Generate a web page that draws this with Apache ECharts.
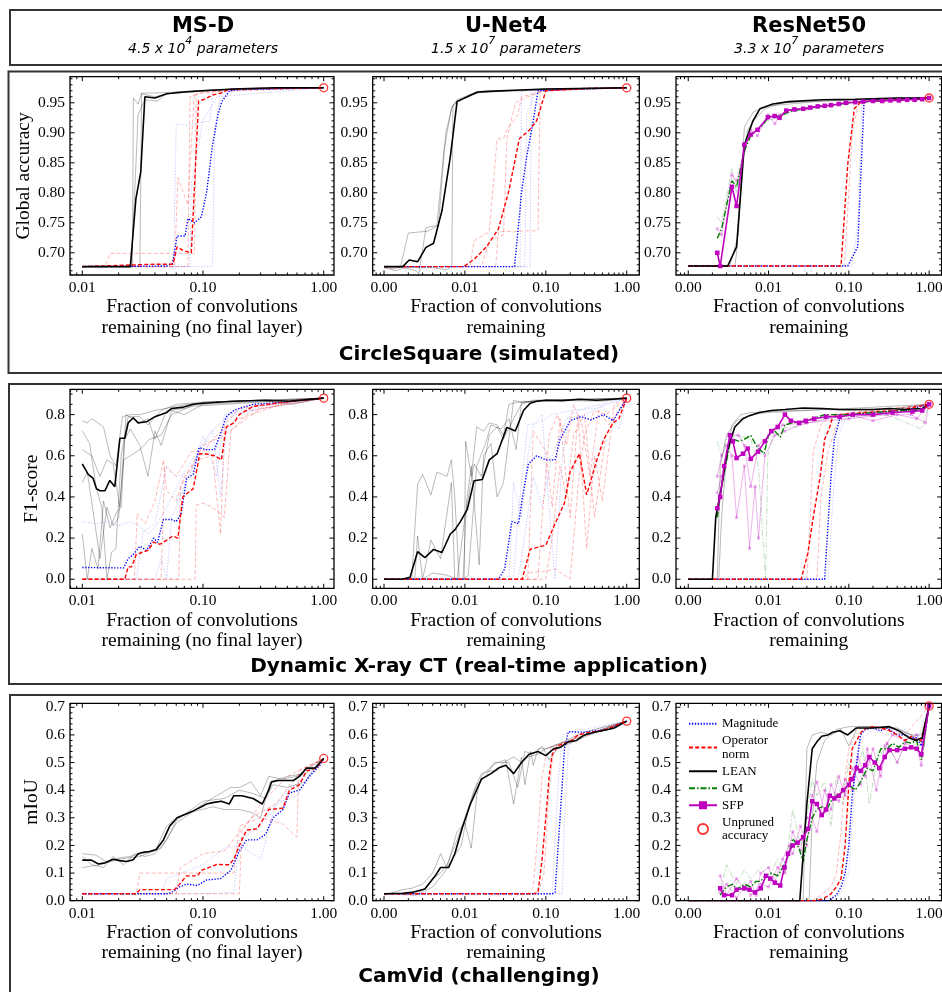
<!DOCTYPE html>
<html><head><meta charset="utf-8">
<script src="https://cdn.jsdelivr.net/npm/echarts@6/dist/echarts.min.js"></script>
<style>html,body{margin:0;padding:0;background:#fff}#c{width:942px;height:992px}</style>
</head><body><div id="c"></div><script>
// ---------------- DATA ----------------
const columnTitles = ['MS-D', 'U-Net4', 'ResNet50'];
const columnSubtitleBase = ['4.5 x 10', '1.5 x 10', '3.3 x 10'];
const columnSubtitleExp = ['4', '7', '7'];
const rowTitles = ['CircleSquare (simulated)', 'Dynamic X-ray CT (real-time application)', 'CamVid (challenging)'];
const yNames = ['Global accuracy', 'F1-score', 'mIoU'];
const xNameMSD = 'Fraction of convolutions\nremaining (no final layer)';
const xNameDeep = 'Fraction of convolutions\nremaining';
const xTicksMSD = [0.01, 0.1, 1];
const xTicksDeep = [0.001, 0.01, 0.1, 1];
const yTicksRow1 = [0.70, 0.75, 0.80, 0.85, 0.90, 0.95];
const yTicksRow2 = [0.0, 0.2, 0.4, 0.6, 0.8];
const yTicksRow3 = [0.0, 0.1, 0.2, 0.3, 0.4, 0.5, 0.6, 0.7];
const legendNames = ['Magnitude', 'Operator\nnorm', 'LEAN', 'GM', 'SFP', 'Unpruned\naccuracy'];
const unprunedRow1 = [0.975, 0.975, 0.958];
const unprunedRow2 = [0.88, 0.88, 0.85];
const unprunedRow3 = [0.515, 0.65, 0.705];

// Row 1, MS-D
const r1c1Lean = [[0.01,0.677],[0.025,0.677],[0.0278,0.79],[0.0305,0.835],[0.033,0.96],[0.04,0.958],[0.05,0.965],[0.07,0.968],[0.1,0.97],[0.18,0.973],[0.4,0.975],[0.7,0.975],[1,0.975]];
const r1c1LeanRun1 = [[0.01,0.677],[0.026,0.677],[0.0265,0.958],[0.029,0.948],[0.031,0.966],[0.05,0.967],[0.1,0.971],[0.2,0.973],[1,0.975]];
const r1c1LeanRun2 = [[0.01,0.677],[0.03,0.677],[0.031,0.965],[0.04,0.96],[0.06,0.968],[0.2,0.973],[1,0.975]];
const r1c1LeanRun3 = [[0.01,0.677],[0.0255,0.677],[0.028,0.86],[0.029,0.93],[0.033,0.955],[0.042,0.953],[0.05,0.965],[0.2,0.974],[1,0.975]];
const r1c1Op = [[0.01,0.677],[0.02,0.679],[0.04,0.681],[0.0565,0.681],[0.061,0.71],[0.07,0.703],[0.08,0.70],[0.092,0.953],[0.1,0.955],[0.12,0.963],[0.14,0.966],[0.16,0.972],[0.3,0.974],[1,0.975]];
const r1c1OpRun1 = [[0.01,0.677],[0.0155,0.677],[0.017,0.699],[0.085,0.699],[0.088,0.965],[0.2,0.973],[1,0.975]];
const r1c1OpRun2 = [[0.01,0.677],[0.058,0.677],[0.062,0.825],[0.075,0.78],[0.085,0.97],[1,0.975]];
const r1c1OpRun3 = [[0.01,0.677],[0.075,0.677],[0.078,0.96],[0.1,0.968],[1,0.975]];
const r1c1Mag = [[0.01,0.677],[0.05,0.678],[0.056,0.683],[0.061,0.728],[0.071,0.728],[0.075,0.757],[0.085,0.75],[0.097,0.76],[0.107,0.8],[0.12,0.88],[0.133,0.93],[0.143,0.952],[0.166,0.97],[0.2,0.972],[1,0.975]];
const r1c1MagRun1 = [[0.01,0.677],[0.057,0.677],[0.06,0.915],[0.075,0.912],[0.1,0.918],[0.115,0.92],[0.12,0.97],[1,0.975]];
const r1c1MagRun2 = [[0.01,0.677],[0.12,0.677],[0.125,0.9],[0.14,0.965],[0.2,0.973],[1,0.975]];
const r1c1MagRun3 = [[0.01,0.677],[0.078,0.677],[0.08,0.815],[0.1,0.92],[0.13,0.96],[1,0.975]];

// Row 1, U-Net4
const r1c2Lean = [[0.001,0.677],[0.0017,0.677],[0.00205,0.688],[0.0026,0.685],[0.0033,0.709],[0.0041,0.716],[0.0052,0.77],[0.0066,0.86],[0.008,0.952],[0.0107,0.96],[0.0142,0.968],[0.019,0.969],[0.04,0.971],[0.1,0.973],[1,0.975]];
const r1c2LeanRun1 = [[0.001,0.677],[0.0013,0.673],[0.0016,0.677],[0.002,0.733],[0.0035,0.736],[0.0045,0.745],[0.0055,0.87],[0.0068,0.94],[0.008,0.955],[0.012,0.965],[0.02,0.969],[0.1,0.973],[1,0.975]];
const r1c2LeanRun2 = [[0.001,0.677],[0.003,0.675],[0.004,0.675],[0.006,0.672],[0.0069,0.677],[0.0071,0.945],[0.008,0.953],[0.015,0.967],[0.1,0.973],[1,0.975]];
const r1c2LeanRun3 = [[0.001,0.675],[0.0014,0.67],[0.0018,0.675],[0.0025,0.67],[0.0027,0.665],[0.0033,0.742],[0.0043,0.745],[0.0047,0.745],[0.0058,0.9],[0.007,0.945],[0.0085,0.955],[0.015,0.968],[1,0.975]];
const r1c2Op = [[0.001,0.677],[0.0097,0.677],[0.0132,0.69],[0.0185,0.71],[0.026,0.74],[0.035,0.804],[0.047,0.89],[0.063,0.905],[0.077,0.92],[0.1,0.97],[0.3,0.974],[1,0.975]];
const r1c2OpRun1 = [[0.001,0.677],[0.0115,0.677],[0.013,0.72],[0.02,0.735],[0.025,0.89],[0.03,0.89],[0.033,0.905],[0.045,0.93],[0.05,0.96],[0.1,0.97],[1,0.975]];
const r1c2OpRun2 = [[0.001,0.677],[0.024,0.677],[0.026,0.735],[0.08,0.737],[0.085,0.97],[1,0.975]];
const r1c2OpRun3 = [[0.001,0.677],[0.016,0.677],[0.02,0.72],[0.03,0.73],[0.033,0.89],[0.042,0.95],[0.06,0.96],[0.09,0.97],[1,0.975]];
const r1c2Mag = [[0.001,0.677],[0.041,0.677],[0.047,0.76],[0.05,0.8],[0.058,0.86],[0.07,0.92],[0.08,0.97],[0.2,0.973],[1,0.975]];
const r1c2MagRun1 = [[0.001,0.677],[0.048,0.677],[0.05,0.97],[1,0.975]];
const r1c2MagRun2 = [[0.001,0.677],[0.064,0.677],[0.066,0.97],[1,0.975]];
const r1c2MagRun3 = [[0.001,0.677],[0.055,0.677],[0.058,0.93],[0.075,0.97],[1,0.975]];

// Row 1, ResNet50
const r1c3Lean = [[0.001,0.678],[0.0031,0.678],[0.004,0.71],[0.005,0.88],[0.0064,0.92],[0.0078,0.94],[0.0113,0.948],[0.018,0.952],[0.047,0.955],[0.12,0.956],[0.4,0.958],[1,0.958]];
const r1c3LeanRun1 = [[0.001,0.678],[0.0038,0.678],[0.004,0.7],[0.0047,0.85],[0.0055,0.905],[0.007,0.925],[0.009,0.94],[0.015,0.95],[0.1,0.955],[1,0.958]];
const r1c3LeanRun2 = [[0.001,0.678],[0.0033,0.678],[0.0042,0.73],[0.005,0.91],[0.0065,0.935],[0.01,0.945],[0.05,0.953],[1,0.958]];
const r1c3Sfp = [[0.0023,0.70],[0.0025,0.678],[0.0035,0.81],[0.004,0.778],[0.005,0.88],[0.006,0.897],[0.0073,0.905],[0.0098,0.926],[0.0119,0.928],[0.0137,0.925],[0.0166,0.937],[0.021,0.939],[0.027,0.94],[0.033,0.942],[0.041,0.944],[0.05,0.945],[0.06,0.946],[0.075,0.948],[0.092,0.95],[0.12,0.951],[0.15,0.952],[0.2,0.953],[0.26,0.953],[0.33,0.954],[0.42,0.954],[0.53,0.955],[0.66,0.955],[0.82,0.956],[1,0.958]];
const r1c3SfpRun1 = [[0.0023,0.74],[0.0026,0.73],[0.0035,0.83],[0.004,0.82],[0.005,0.87],[0.006,0.905],[0.0073,0.895],[0.0098,0.93],[0.012,0.915],[0.0137,0.93],[0.0166,0.936],[0.03,0.94],[0.1,0.95],[1,0.958]];
const r1c3Gm = [[0.0023,0.724],[0.0026,0.74],[0.0035,0.82],[0.004,0.81],[0.005,0.87],[0.006,0.895],[0.008,0.91],[0.01,0.925],[0.015,0.93],[0.02,0.937],[0.05,0.945],[0.1,0.95],[0.3,0.954],[1,0.958]];
const r1c3GmRun1 = [[0.0023,0.76],[0.0026,0.75],[0.0035,0.84],[0.004,0.8],[0.005,0.88],[0.0065,0.9],[0.01,0.92],[0.02,0.935],[0.1,0.95],[1,0.958]];
const r1c3Op = [[0.001,0.678],[0.08,0.678],[0.097,0.848],[0.117,0.94],[0.141,0.952],[0.3,0.955],[1,0.958]];
const r1c3OpRun1 = [[0.001,0.678],[0.088,0.678],[0.1,0.8],[0.11,0.9],[0.13,0.945],[0.16,0.955],[1,0.958]];
const r1c3Mag = [[0.001,0.678],[0.097,0.678],[0.129,0.71],[0.155,0.955],[0.3,0.957],[1,0.958]];
const r1c3MagRun1 = [[0.001,0.678],[0.11,0.678],[0.13,0.75],[0.145,0.955],[1,0.958]];

// Row 2, MS-D
const r2c1Lean = [[0.01,0.56],[0.0112,0.51],[0.0123,0.49],[0.0131,0.44],[0.014,0.43],[0.0154,0.43],[0.0169,0.48],[0.0186,0.45],[0.0205,0.685],[0.0225,0.685],[0.024,0.76],[0.0264,0.785],[0.029,0.76],[0.034,0.765],[0.04,0.79],[0.045,0.8],[0.05,0.81],[0.055,0.83],[0.067,0.835],[0.083,0.85],[0.103,0.855],[0.133,0.86],[0.18,0.865],[0.33,0.87],[0.52,0.865],[1,0.88]];
const r2c1LeanRun1 = [[0.01,0.77],[0.011,0.76],[0.012,0.78],[0.015,0.74],[0.017,0.6],[0.019,0.55],[0.0215,0.79],[0.025,0.8],[0.03,0.8],[0.04,0.82],[0.06,0.84],[0.1,0.86],[0.3,0.87],[0.55,0.85],[1,0.88]];
const r2c1LeanRun2 = [[0.01,0.72],[0.0115,0.66],[0.013,0.45],[0.0145,0.35],[0.016,0.0],[0.0175,0.13],[0.019,0.15],[0.021,0.6],[0.024,0.79],[0.03,0.79],[0.035,0.75],[0.045,0.82],[0.06,0.85],[0.1,0.86],[0.3,0.87],[1,0.88]];
const r2c1LeanRun3 = [[0.01,0.22],[0.011,0.0],[0.012,0.15],[0.0135,0.05],[0.015,0.38],[0.017,0.25],[0.019,0.32],[0.021,0.35],[0.0225,0.68],[0.025,0.73],[0.03,0.65],[0.035,0.5],[0.04,0.72],[0.045,0.65],[0.055,0.82],[0.07,0.8],[0.1,0.85],[1,0.88]];
const r2c1LeanRun4 = [[0.01,0.63],[0.012,0.6],[0.014,0.5],[0.016,0.58],[0.018,0.56],[0.0205,0.35],[0.023,0.8],[0.026,0.78],[0.03,0.76],[0.035,0.78],[0.04,0.68],[0.05,0.82],[0.07,0.83],[0.1,0.86],[1,0.88]];
const r2c1LeanRun5 = [[0.01,0.47],[0.011,0.52],[0.0125,0.3],[0.014,0.1],[0.016,0.35],[0.018,0.26],[0.02,0.3],[0.022,0.58],[0.025,0.6],[0.03,0.63],[0.036,0.68],[0.045,0.7],[0.055,0.8],[0.08,0.84],[1,0.88]];
const r2c1Op = [[0.01,0],[0.0225,0],[0.024,0.06],[0.0255,0.06],[0.0264,0.08],[0.028,0.12],[0.031,0.13],[0.035,0.14],[0.039,0.18],[0.044,0.17],[0.05,0.19],[0.056,0.21],[0.062,0.2],[0.068,0.4],[0.075,0.42],[0.083,0.44],[0.094,0.61],[0.104,0.61],[0.125,0.6],[0.142,0.58],[0.156,0.74],[0.18,0.76],[0.2,0.8],[0.26,0.84],[0.4,0.855],[0.63,0.87],[1,0.88]];
const r2c1OpRun1 = [[0.01,0],[0.027,0],[0.0285,0.32],[0.033,0.27],[0.04,0.38],[0.047,0.58],[0.05,0.43],[0.06,0.38],[0.07,0.5],[0.09,0.58],[0.12,0.6],[0.14,0.22],[0.15,0.75],[0.2,0.83],[1,0.88]];
const r2c1OpRun2 = [[0.01,0],[0.086,0],[0.088,0.36],[0.1,0.37],[0.12,0.35],[0.15,0.3],[0.17,0.72],[0.25,0.82],[1,0.88]];
const r2c1OpRun3 = [[0.01,0],[0.045,0],[0.048,0.55],[0.06,0.5],[0.08,0.62],[0.1,0.62],[0.13,0.7],[0.2,0.78],[0.5,0.86],[1,0.88]];
const r2c1OpRun4 = [[0.01,0],[0.063,0],[0.065,0.45],[0.08,0.55],[0.1,0.65],[0.15,0.7],[0.3,0.83],[1,0.88]];
const r2c1Mag = [[0.01,0.057],[0.022,0.055],[0.024,0.1],[0.0264,0.12],[0.03,0.16],[0.034,0.14],[0.039,0.2],[0.042,0.18],[0.047,0.29],[0.055,0.29],[0.06,0.28],[0.066,0.32],[0.073,0.49],[0.083,0.51],[0.093,0.64],[0.104,0.63],[0.125,0.63],[0.14,0.71],[0.156,0.79],[0.18,0.82],[0.2,0.83],[0.26,0.85],[0.45,0.86],[1,0.88]];
const r2c1MagRun1 = [[0.01,0.28],[0.013,0.27],[0.016,0.28],[0.02,0.26],[0.025,0.28],[0.03,0.26],[0.035,0.22],[0.04,0.25],[0.05,0.35],[0.07,0.52],[0.09,0.62],[0.11,0.7],[0.15,0.78],[0.3,0.84],[1,0.88]];
const r2c1MagRun2 = [[0.01,0],[0.028,0],[0.032,0.23],[0.04,0.27],[0.05,0.55],[0.06,0.5],[0.08,0.52],[0.1,0.7],[0.13,0.5],[0.15,0.8],[0.3,0.85],[1,0.88]];
const r2c1MagRun3 = [[0.01,0],[0.04,0],[0.045,0.1],[0.05,0.0],[0.055,0.3],[0.07,0.45],[0.09,0.6],[0.12,0.72],[0.14,0.4],[0.16,0.8],[1,0.88]];

// Row 2, U-Net4
const r2c2Lean = [[0.001,0],[0.00165,0],[0.0021,0.01],[0.0026,0.134],[0.0032,0.105],[0.0041,0.145],[0.0052,0.13],[0.0066,0.22],[0.0075,0.24],[0.0088,0.28],[0.0107,0.34],[0.013,0.479],[0.0164,0.485],[0.02,0.58],[0.025,0.61],[0.033,0.738],[0.042,0.72],[0.053,0.82],[0.064,0.855],[0.077,0.865],[0.1,0.87],[0.16,0.868],[0.26,0.875],[0.42,0.87],[0.68,0.875],[1,0.88]];
const r2c2LeanRun1 = [[0.001,0],[0.0022,0],[0.0026,0.46],[0.003,0.51],[0.0038,0.41],[0.0045,0.52],[0.006,0.5],[0.0068,0.58],[0.0075,0.4],[0.0085,0],[0.0098,0],[0.0102,0.67],[0.012,0.5],[0.014,0.74],[0.017,0.72],[0.02,0.76],[0.025,0.75],[0.03,0.7],[0.035,0.85],[0.045,0.86],[0.1,0.87],[1,0.88]];
const r2c2LeanRun2 = [[0.001,0],[0.0024,0],[0.0026,0.21],[0.003,0],[0.0038,0.19],[0.005,0.1],[0.0068,0.47],[0.0075,0],[0.0095,0],[0.0105,0.38],[0.012,0.55],[0.015,0.07],[0.017,0.6],[0.021,0.66],[0.025,0.4],[0.03,0.47],[0.04,0.87],[0.05,0.86],[0.2,0.87],[1,0.88]];
const r2c2LeanRun3 = [[0.001,0],[0.0095,0],[0.011,0.02],[0.014,0.55],[0.018,0.66],[0.021,0.75],[0.028,0.73],[0.035,0.78],[0.043,0.63],[0.05,0.86],[0.1,0.87],[0.5,0.865],[1,0.88]];
const r2c2LeanRun4 = [[0.001,0],[0.003,0],[0.004,0.03],[0.006,0.02],[0.008,0.0],[0.01,0.3],[0.013,0.56],[0.016,0.5],[0.02,0.7],[0.025,0.74],[0.03,0.68],[0.04,0.78],[0.05,0.85],[0.07,0.87],[1,0.88]];
const r2c2Op = [[0.001,0],[0.051,0],[0.064,0.146],[0.1,0.165],[0.13,0.27],[0.17,0.37],[0.2,0.523],[0.26,0.61],[0.32,0.41],[0.42,0.57],[0.52,0.68],[0.68,0.76],[0.8,0.78],[1,0.88]];
const r2c2OpRun1 = [[0.001,0],[0.06,0],[0.07,0.72],[0.1,0.62],[0.12,0.35],[0.15,0.78],[0.2,0.3],[0.25,0.8],[0.32,0.15],[0.4,0.6],[0.5,0.38],[0.7,0.85],[1,0.88]];
const r2c2OpRun2 = [[0.001,0],[0.055,0],[0.06,0.03],[0.1,0.04],[0.13,0.05],[0.2,0],[0.25,0.45],[0.3,0.7],[0.4,0.82],[0.55,0.8],[0.7,0.83],[1,0.88]];
const r2c2OpRun3 = [[0.001,0],[0.08,0],[0.09,0.3],[0.11,0.7],[0.14,0.8],[0.18,0.65],[0.22,0.85],[0.28,0.75],[0.35,0.5],[0.45,0.82],[0.6,0.75],[1,0.88]];
const r2c2OpRun4 = [[0.001,0],[0.1,0],[0.12,0.2],[0.15,0.55],[0.18,0.4],[0.22,0.7],[0.3,0.8],[0.4,0.3],[0.55,0.7],[0.75,0.8],[1,0.88]];
const r2c2Mag = [[0.001,0],[0.026,0],[0.031,0.05],[0.038,0.28],[0.046,0.27],[0.052,0.41],[0.061,0.56],[0.077,0.6],[0.1,0.58],[0.13,0.58],[0.15,0.68],[0.2,0.77],[0.27,0.79],[0.36,0.775],[0.52,0.8],[0.68,0.77],[1,0.88]];
const r2c2MagRun1 = [[0.001,0],[0.035,0],[0.04,0.47],[0.05,0.3],[0.06,0.6],[0.07,0.75],[0.09,0.8],[0.1,0.55],[0.13,0.0],[0.16,0.6],[0.2,0.8],[0.3,0.83],[1,0.88]];
const r2c2MagRun2 = [[0.001,0],[0.04,0],[0.045,0.3],[0.06,0.75],[0.08,0.76],[0.12,0.8],[0.2,0.82],[0.4,0.83],[1,0.88]];
const r2c2MagRun3 = [[0.001,0],[0.045,0],[0.05,0.1],[0.07,0.5],[0.09,0.35],[0.12,0.6],[0.18,0.78],[0.3,0.8],[0.5,0.84],[0.8,0.73],[1,0.88]];

// Row 2, ResNet50
const r2c3Lean = [[0.001,0],[0.002,0],[0.0022,0.3],[0.0026,0.45],[0.0031,0.63],[0.0038,0.74],[0.0048,0.78],[0.0058,0.795],[0.0077,0.81],[0.0108,0.82],[0.016,0.825],[0.027,0.832],[0.047,0.83],[0.077,0.825],[0.12,0.825],[0.2,0.825],[0.32,0.83],[0.52,0.825],[0.82,0.83],[1,0.85]];
const r2c3LeanRun1 = [[0.001,0],[0.0024,0],[0.0026,0.3],[0.003,0.6],[0.0035,0.75],[0.0045,0.8],[0.006,0.81],[0.01,0.815],[0.02,0.82],[0.05,0.825],[0.1,0.82],[0.3,0.825],[1,0.85]];
const r2c3LeanRun2 = [[0.001,0],[0.0023,0],[0.0025,0.55],[0.003,0.7],[0.004,0.77],[0.006,0.8],[0.01,0.81],[0.03,0.82],[0.1,0.83],[1,0.85]];
const r2c3Sfp = [[0.0023,0.345],[0.0025,0.4],[0.0028,0.55],[0.0033,0.7],[0.0036,0.67],[0.004,0.589],[0.0048,0.61],[0.0055,0.635],[0.006,0.585],[0.0074,0.62],[0.009,0.67],[0.0108,0.72],[0.013,0.74],[0.016,0.8],[0.019,0.77],[0.024,0.76],[0.029,0.77],[0.037,0.78],[0.052,0.79],[0.077,0.79],[0.112,0.8],[0.2,0.8],[0.35,0.81],[0.62,0.815],[0.82,0.82],[1,0.85]];
const r2c3SfpRun1 = [[0.0023,0.5],[0.0026,0.6],[0.003,0.65],[0.0035,0.6],[0.004,0.3],[0.005,0.55],[0.0058,0.15],[0.0068,0.45],[0.0075,0.2],[0.009,0.6],[0.012,0.7],[0.016,0.72],[0.03,0.76],[0.1,0.78],[0.3,0.8],[0.6,0.8],[0.9,0.76],[1,0.85]];
const r2c3SfpRun2 = [[0.0023,0.42],[0.0026,0.5],[0.0033,0.7],[0.0042,0.7],[0.005,0.65],[0.006,0.45],[0.0075,0.65],[0.01,0.7],[0.015,0.75],[0.03,0.76],[0.1,0.8],[0.2,0.77],[0.4,0.8],[0.7,0.78],[1,0.85]];
const r2c3Gm = [[0.0023,0.3],[0.0026,0.45],[0.0033,0.66],[0.0037,0.68],[0.0043,0.67],[0.005,0.68],[0.006,0.7],[0.007,0.65],[0.0088,0.61],[0.01,0.7],[0.012,0.72],[0.014,0.69],[0.016,0.75],[0.02,0.76],[0.03,0.77],[0.05,0.8],[0.1,0.8],[0.2,0.81],[0.5,0.82],[0.82,0.82],[1,0.85]];
const r2c3GmRun1 = [[0.0023,0.67],[0.0026,0.6],[0.003,0.68],[0.004,0.7],[0.006,0.68],[0.0075,0.55],[0.0085,0.2],[0.0092,0],[0.0098,0.6],[0.012,0.73],[0.02,0.74],[0.05,0.78],[0.1,0.79],[0.3,0.8],[0.8,0.73],[1,0.85]];
const r2c3Op = [[0.001,0],[0.0255,0],[0.031,0.13],[0.036,0.3],[0.044,0.5],[0.05,0.68],[0.058,0.74],[0.063,0.79],[0.077,0.8],[0.15,0.81],[0.4,0.82],[1,0.85]];
const r2c3OpRun1 = [[0.001,0],[0.03,0],[0.033,0.3],[0.036,0.62],[0.045,0.75],[0.06,0.8],[1,0.85]];
const r2c3OpRun2 = [[0.001,0],[0.04,0],[0.045,0.4],[0.055,0.62],[0.07,0.75],[0.1,0.8],[1,0.85]];
const r2c3Mag = [[0.001,0],[0.05,0],[0.06,0.5],[0.066,0.68],[0.077,0.78],[0.092,0.8],[0.2,0.81],[0.5,0.82],[1,0.85]];
const r2c3MagRun1 = [[0.001,0],[0.055,0],[0.065,0.45],[0.075,0.7],[0.09,0.78],[1,0.85]];

// Row 3, MS-D
const r3c1Lean = [[0.01,0.147],[0.0119,0.147],[0.0136,0.133],[0.0154,0.137],[0.018,0.15],[0.0205,0.145],[0.0233,0.142],[0.0264,0.148],[0.029,0.17],[0.032,0.175],[0.036,0.178],[0.041,0.185],[0.047,0.22],[0.053,0.27],[0.061,0.3],[0.073,0.315],[0.083,0.325],[0.097,0.34],[0.107,0.35],[0.12,0.355],[0.142,0.36],[0.165,0.35],[0.18,0.38],[0.21,0.38],[0.26,0.37],[0.31,0.35],[0.35,0.4],[0.37,0.43],[0.42,0.435],[0.56,0.435],[0.63,0.45],[0.72,0.48],[0.85,0.48],[1,0.515]];
const r3c1LeanRun1 = [[0.01,0.17],[0.013,0.165],[0.016,0.14],[0.02,0.155],[0.025,0.16],[0.03,0.17],[0.04,0.18],[0.05,0.27],[0.06,0.3],[0.08,0.32],[0.1,0.35],[0.13,0.38],[0.17,0.41],[0.2,0.41],[0.25,0.43],[0.3,0.38],[0.35,0.45],[0.45,0.44],[0.6,0.45],[0.8,0.49],[1,0.515]];
const r3c1LeanRun2 = [[0.01,0.12],[0.014,0.13],[0.02,0.15],[0.03,0.16],[0.045,0.19],[0.06,0.28],[0.08,0.32],[0.12,0.34],[0.15,0.33],[0.2,0.33],[0.25,0.32],[0.3,0.3],[0.36,0.43],[0.5,0.45],[0.7,0.46],[0.9,0.49],[1,0.515]];
const r3c1LeanRun3 = [[0.01,0.16],[0.012,0.13],[0.015,0.12],[0.018,0.16],[0.022,0.13],[0.027,0.17],[0.033,0.16],[0.04,0.17],[0.05,0.22],[0.06,0.29],[0.08,0.33],[0.1,0.36],[0.15,0.37],[0.2,0.4],[0.25,0.39],[0.33,0.37],[0.38,0.42],[0.5,0.41],[0.7,0.43],[0.9,0.5],[1,0.515]];
const r3c1Op = [[0.01,0.025],[0.028,0.025],[0.03,0.04],[0.058,0.04],[0.064,0.06],[0.073,0.09],[0.09,0.09],[0.097,0.11],[0.13,0.131],[0.165,0.13],[0.18,0.15],[0.2,0.2],[0.23,0.256],[0.28,0.26],[0.31,0.29],[0.35,0.33],[0.46,0.335],[0.52,0.4],[0.63,0.42],[0.72,0.47],[0.87,0.48],[1,0.515]];
const r3c1OpRun1 = [[0.01,0.025],[0.028,0.025],[0.03,0.1],[0.18,0.1],[0.2,0.27],[0.3,0.3],[0.45,0.28],[0.6,0.23],[0.62,0.47],[1,0.515]];
const r3c1OpRun2 = [[0.01,0.025],[0.2,0.025],[0.21,0.25],[0.3,0.35],[0.5,0.45],[1,0.515]];
const r3c1OpRun3 = [[0.01,0.025],[0.06,0.025],[0.065,0.12],[0.1,0.17],[0.15,0.18],[0.25,0.3],[0.4,0.35],[0.6,0.45],[1,0.515]];
const r3c1Mag = [[0.01,0.025],[0.05,0.025],[0.055,0.03],[0.064,0.05],[0.073,0.06],[0.09,0.055],[0.107,0.075],[0.14,0.08],[0.17,0.11],[0.2,0.18],[0.23,0.22],[0.28,0.22],[0.33,0.24],[0.38,0.3],[0.46,0.33],[0.52,0.39],[0.63,0.4],[0.76,0.45],[0.93,0.49],[1,0.515]];
const r3c1MagRun1 = [[0.01,0.025],[0.045,0.025],[0.05,0.08],[0.1,0.13],[0.15,0.19],[0.2,0.2],[0.3,0.15],[0.4,0.35],[0.6,0.38],[1,0.515]];
const r3c1MagRun2 = [[0.01,0.025],[0.1,0.025],[0.18,0.03],[0.2,0.22],[0.3,0.27],[0.5,0.4],[0.8,0.46],[1,0.515]];

// Row 3, U-Net4
const r3c2Lean = [[0.001,0.025],[0.0017,0.027],[0.0022,0.03],[0.0032,0.042],[0.0043,0.09],[0.005,0.12],[0.0063,0.12],[0.0075,0.17],[0.0093,0.265],[0.0117,0.35],[0.016,0.44],[0.021,0.46],[0.026,0.48],[0.032,0.49],[0.04,0.46],[0.05,0.5],[0.062,0.53],[0.08,0.54],[0.1,0.525],[0.125,0.55],[0.15,0.555],[0.19,0.575],[0.24,0.58],[0.3,0.6],[0.4,0.61],[0.55,0.618],[0.7,0.625],[1,0.65]];
const r3c2LeanRun1 = [[0.001,0.02],[0.0017,0.04],[0.0022,0.045],[0.003,0.06],[0.004,0.1],[0.005,0.17],[0.006,0.12],[0.008,0.25],[0.01,0.28],[0.012,0.19],[0.014,0.38],[0.016,0.45],[0.02,0.48],[0.025,0.5],[0.032,0.51],[0.04,0.35],[0.05,0.52],[0.055,0.42],[0.065,0.54],[0.07,0.49],[0.08,0.55],[0.1,0.55],[0.15,0.57],[0.3,0.61],[1,0.65]];
const r3c2LeanRun2 = [[0.001,0.025],[0.0025,0.02],[0.003,0.03],[0.004,0.05],[0.0055,0.1],[0.007,0.15],[0.009,0.2],[0.011,0.33],[0.014,0.42],[0.018,0.45],[0.023,0.5],[0.03,0.5],[0.04,0.52],[0.05,0.5],[0.06,0.52],[0.08,0.53],[0.1,0.55],[0.13,0.56],[0.2,0.58],[0.4,0.61],[1,0.65]];
const r3c2LeanRun3 = [[0.001,0.025],[0.002,0.025],[0.003,0.035],[0.004,0.08],[0.005,0.1],[0.006,0.13],[0.008,0.22],[0.01,0.3],[0.013,0.4],[0.016,0.46],[0.02,0.47],[0.025,0.47],[0.03,0.5],[0.035,0.5],[0.045,0.41],[0.055,0.54],[0.07,0.53],[0.09,0.56],[0.11,0.51],[0.14,0.55],[0.2,0.57],[0.5,0.62],[1,0.65]];
const r3c2Op = [[0.001,0.025],[0.07,0.025],[0.08,0.03],[0.09,0.15],[0.1,0.3],[0.11,0.45],[0.12,0.53],[0.14,0.56],[0.17,0.57],[0.2,0.575],[0.25,0.6],[0.35,0.61],[0.5,0.615],[1,0.65]];
const r3c2OpRun1 = [[0.001,0.025],[0.06,0.025],[0.07,0.05],[0.08,0.25],[0.09,0.45],[0.1,0.52],[0.12,0.56],[0.2,0.58],[1,0.65]];
const r3c2OpRun2 = [[0.001,0.025],[0.08,0.025],[0.095,0.1],[0.11,0.4],[0.125,0.55],[0.15,0.57],[1,0.65]];
const r3c2Mag = [[0.001,0.025],[0.12,0.025],[0.125,0.02],[0.13,0.03],[0.15,0.3],[0.17,0.55],[0.19,0.612],[0.25,0.61],[0.3,0.61],[0.4,0.615],[0.6,0.62],[1,0.65]];
const r3c2MagRun1 = [[0.001,0.025],[0.12,0.025],[0.14,0.4],[0.16,0.6],[0.2,0.61],[1,0.65]];
const r3c2MagRun2 = [[0.001,0.025],[0.16,0.025],[0.17,0.3],[0.19,0.55],[0.22,0.6],[1,0.65]];

// Row 3, ResNet50
const r3c3Lean = [[0.001,0],[0.0245,0],[0.03,0.35],[0.035,0.55],[0.04,0.575],[0.046,0.595],[0.055,0.6],[0.063,0.61],[0.077,0.615],[0.097,0.6],[0.123,0.625],[0.2,0.625],[0.32,0.63],[0.42,0.615],[0.56,0.59],[0.68,0.58],[0.82,0.59],[1,0.705]];
const r3c3LeanRun1 = [[0.001,0],[0.032,0],[0.035,0.3],[0.04,0.5],[0.05,0.58],[0.07,0.62],[0.1,0.63],[0.2,0.63],[0.4,0.62],[0.6,0.6],[0.85,0.57],[1,0.705]];
const r3c3LeanRun2 = [[0.001,0],[0.027,0],[0.03,0.55],[0.035,0.6],[0.045,0.61],[0.06,0.6],[0.08,0.62],[0.1,0.56],[0.13,0.63],[0.2,0.63],[0.4,0.625],[0.6,0.6],[0.8,0.6],[1,0.705]];
const r3c3Sfp = [[0.0025,0.045],[0.0028,0.02],[0.0035,0.02],[0.004,0.04],[0.005,0.045],[0.0058,0.04],[0.0068,0.03],[0.008,0.045],[0.0093,0.09],[0.0105,0.08],[0.012,0.065],[0.014,0.055],[0.0158,0.12],[0.0175,0.17],[0.02,0.2],[0.023,0.21],[0.027,0.23],[0.031,0.26],[0.035,0.36],[0.04,0.35],[0.046,0.31],[0.052,0.33],[0.058,0.38],[0.066,0.37],[0.075,0.38],[0.085,0.4],[0.1,0.42],[0.11,0.44],[0.125,0.48],[0.14,0.47],[0.16,0.49],[0.18,0.52],[0.21,0.5],[0.24,0.48],[0.28,0.52],[0.32,0.545],[0.4,0.545],[0.5,0.55],[0.6,0.555],[0.7,0.55],[0.8,0.53],[1,0.705]];
const r3c3SfpRun1 = [[0.0025,0.09],[0.003,0.02],[0.004,0.08],[0.005,0.04],[0.006,0.07],[0.007,0.02],[0.008,0.1],[0.01,0.12],[0.012,0.07],[0.015,0.15],[0.018,0.2],[0.02,0.17],[0.025,0.27],[0.03,0.2],[0.035,0.38],[0.04,0.43],[0.05,0.32],[0.06,0.42],[0.075,0.36],[0.09,0.44],[0.11,0.4],[0.13,0.52],[0.16,0.45],[0.2,0.55],[0.25,0.45],[0.3,0.57],[0.4,0.5],[0.5,0.57],[0.7,0.55],[0.8,0.49],[1,0.705]];
const r3c3SfpRun2 = [[0.0025,0.03],[0.003,0.06],[0.004,0.01],[0.005,0.05],[0.006,0.02],[0.008,0.06],[0.01,0.05],[0.013,0.12],[0.016,0.1],[0.02,0.25],[0.025,0.18],[0.03,0.3],[0.035,0.3],[0.04,0.25],[0.05,0.4],[0.06,0.33],[0.075,0.45],[0.09,0.38],[0.11,0.48],[0.14,0.42],[0.17,0.55],[0.22,0.4],[0.28,0.56],[0.35,0.6],[0.5,0.58],[0.7,0.6],[0.85,0.56],[1,0.705]];
const r3c3Gm = [[0.0025,0.02],[0.003,0.05],[0.0036,0.06],[0.004,0.04],[0.005,0.06],[0.006,0.05],[0.007,0.07],[0.008,0.07],[0.009,0.09],[0.011,0.1],[0.013,0.09],[0.015,0.12],[0.018,0.17],[0.02,0.225],[0.024,0.19],[0.027,0.14],[0.03,0.22],[0.035,0.3],[0.04,0.33],[0.046,0.34],[0.053,0.33],[0.06,0.36],[0.07,0.38],[0.08,0.39],[0.1,0.42],[0.12,0.4],[0.14,0.43],[0.17,0.48],[0.2,0.47],[0.25,0.55],[0.3,0.55],[0.35,0.57],[0.42,0.555],[0.5,0.575],[0.6,0.57],[0.7,0.58],[0.8,0.51],[1,0.705]];
const r3c3GmRun1 = [[0.0025,0.04],[0.003,0.13],[0.004,0.06],[0.005,0.11],[0.006,0.08],[0.008,0.12],[0.01,0.08],[0.013,0.15],[0.016,0.1],[0.02,0.33],[0.025,0.2],[0.03,0.3],[0.035,0.44],[0.04,0.38],[0.05,0.43],[0.06,0.27],[0.07,0.45],[0.085,0.35],[0.1,0.5],[0.12,0.45],[0.15,0.55],[0.18,0.35],[0.22,0.5],[0.3,0.57],[0.4,0.5],[0.55,0.59],[0.75,0.55],[1,0.705]];
const r3c3Op = [[0.001,0],[0.04,0],[0.05,0.01],[0.06,0.025],[0.07,0.05],[0.08,0.08],[0.09,0.2],[0.1,0.42],[0.11,0.55],[0.125,0.58],[0.15,0.62],[0.2,0.63],[0.25,0.625],[0.3,0.62],[0.4,0.6],[0.5,0.58],[0.6,0.595],[0.7,0.58],[0.8,0.58],[1,0.705]];
const r3c3OpRun1 = [[0.001,0],[0.035,0],[0.045,0.02],[0.06,0.05],[0.07,0.1],[0.08,0.25],[0.09,0.45],[0.1,0.55],[0.12,0.6],[0.2,0.63],[0.5,0.6],[1,0.705]];
const r3c3Mag = [[0.001,0],[0.055,0],[0.07,0.02],[0.08,0.05],[0.09,0.1],[0.1,0.2],[0.11,0.38],[0.125,0.5],[0.14,0.6],[0.16,0.62],[0.2,0.625],[0.25,0.615],[0.3,0.625],[0.4,0.6],[0.5,0.6],[0.6,0.59],[0.7,0.59],[0.8,0.56],[1,0.705]];
const r3c3MagRun1 = [[0.001,0],[0.06,0],[0.08,0.03],[0.1,0.1],[0.12,0.45],[0.14,0.58],[0.2,0.62],[0.3,0.6],[0.5,0.62],[0.7,0.57],[1,0.705]];

// ---------------- BUILD ----------------
const panels = [
  {lean:r1c1Lean, leanRuns:[r1c1LeanRun1,r1c1LeanRun2,r1c1LeanRun3], op:r1c1Op, opRuns:[r1c1OpRun1,r1c1OpRun2,r1c1OpRun3], mag:r1c1Mag, magRuns:[r1c1MagRun1,r1c1MagRun2,r1c1MagRun3], unpruned:unprunedRow1[0]},
  {lean:r1c2Lean, leanRuns:[r1c2LeanRun1,r1c2LeanRun2,r1c2LeanRun3], op:r1c2Op, opRuns:[r1c2OpRun1,r1c2OpRun2,r1c2OpRun3], mag:r1c2Mag, magRuns:[r1c2MagRun1,r1c2MagRun2,r1c2MagRun3], unpruned:unprunedRow1[1]},
  {lean:r1c3Lean, leanRuns:[r1c3LeanRun1,r1c3LeanRun2], op:r1c3Op, opRuns:[r1c3OpRun1], mag:r1c3Mag, magRuns:[r1c3MagRun1], gm:r1c3Gm, gmRuns:[r1c3GmRun1], sfp:r1c3Sfp, sfpRuns:[r1c3SfpRun1], unpruned:unprunedRow1[2]},
  {lean:r2c1Lean, leanRuns:[r2c1LeanRun1,r2c1LeanRun2,r2c1LeanRun3,r2c1LeanRun4,r2c1LeanRun5], op:r2c1Op, opRuns:[r2c1OpRun1,r2c1OpRun2,r2c1OpRun3,r2c1OpRun4], mag:r2c1Mag, magRuns:[r2c1MagRun1,r2c1MagRun2,r2c1MagRun3], unpruned:unprunedRow2[0]},
  {lean:r2c2Lean, leanRuns:[r2c2LeanRun1,r2c2LeanRun2,r2c2LeanRun3,r2c2LeanRun4], op:r2c2Op, opRuns:[r2c2OpRun1,r2c2OpRun2,r2c2OpRun3,r2c2OpRun4], mag:r2c2Mag, magRuns:[r2c2MagRun1,r2c2MagRun2,r2c2MagRun3], unpruned:unprunedRow2[1]},
  {lean:r2c3Lean, leanRuns:[r2c3LeanRun1,r2c3LeanRun2], op:r2c3Op, opRuns:[r2c3OpRun1,r2c3OpRun2], mag:r2c3Mag, magRuns:[r2c3MagRun1], gm:r2c3Gm, gmRuns:[r2c3GmRun1], sfp:r2c3Sfp, sfpRuns:[r2c3SfpRun1,r2c3SfpRun2], unpruned:unprunedRow2[2]},
  {lean:r3c1Lean, leanRuns:[r3c1LeanRun1,r3c1LeanRun2,r3c1LeanRun3], op:r3c1Op, opRuns:[r3c1OpRun1,r3c1OpRun2,r3c1OpRun3], mag:r3c1Mag, magRuns:[r3c1MagRun1,r3c1MagRun2], unpruned:unprunedRow3[0]},
  {lean:r3c2Lean, leanRuns:[r3c2LeanRun1,r3c2LeanRun2,r3c2LeanRun3], op:r3c2Op, opRuns:[r3c2OpRun1,r3c2OpRun2], mag:r3c2Mag, magRuns:[r3c2MagRun1,r3c2MagRun2], unpruned:unprunedRow3[1]},
  {lean:r3c3Lean, leanRuns:[r3c3LeanRun1,r3c3LeanRun2], op:r3c3Op, opRuns:[r3c3OpRun1], mag:r3c3Mag, magRuns:[r3c3MagRun1], gm:r3c3Gm, gmRuns:[r3c3GmRun1], sfp:r3c3Sfp, sfpRuns:[r3c3SfpRun1,r3c3SfpRun2], unpruned:unprunedRow3[2]}
];

const SERIF = '"Liberation Serif","Times New Roman",serif';
const SANS = '"DejaVu Sans",sans-serif';
const colsGeo = [
  {left:70, width:264, xmin:0.00791, xmax:1.217, ticks:xTicksMSD, name:xNameMSD},
  {left:372.7, width:266.6, xmin:0.000725, xmax:1.43, ticks:xTicksDeep, name:xNameDeep},
  {left:676, width:265.6, xmin:0.000704, xmax:1.43, ticks:xTicksDeep, name:xNameDeep}
];
const rowsGeo = [
  {top:76.7, height:198.3, ymin:0.663, ymax:0.9935, ticks:yTicksRow1, minor:0.01, dec:2, nameGap:36},
  {top:389.3, height:199, ymin:-0.044, ymax:0.923, ticks:yTicksRow2, minor:0.05, dec:1, nameGap:27},
  {top:703.3, height:197.4, ymin:0, ymax:0.7145, ticks:yTicksRow3, minor:0.02, dec:1, nameGap:27}
];

function xMinorTicks(g){
  const out=[];
  for(let d=Math.floor(Math.log10(g.xmin)); d<=Math.ceil(Math.log10(g.xmax)); d++){
    for(let k=2;k<=9;k++){const v=k*Math.pow(10,d); if(v>g.xmin && v<g.xmax) out.push(v);}
  }
  return out;
}
function yMinorTicks(r){
  const out=[];
  const n0=Math.ceil(r.ymin/r.minor-1e-6), n1=Math.floor(r.ymax/r.minor+1e-6);
  for(let n=n0;n<=n1;n++){
    const v=Math.round(n*r.minor*1000)/1000;
    if(!r.ticks.some(t=>Math.abs(t-v)<1e-6)) out.push(v);
  }
  return out;
}
function renderTick(params, api){
  const cs = params.coordSys;
  const kind = api.value(2);
  const len = (kind===0||kind===2) ? 4.5 : 2.5;
  const st = {stroke:'#000', lineWidth:1};
  if(kind<2){
    const px = api.coord([api.value(0), api.value(1)])[0];
    const yb = cs.y+cs.height, yt = cs.y;
    return {type:'group', children:[
      {type:'line', shape:{x1:px,y1:yb,x2:px,y2:yb-len}, style:st},
      {type:'line', shape:{x1:px,y1:yt,x2:px,y2:yt+len}, style:st}]};
  } else {
    const py = api.coord([api.value(0), api.value(1)])[1];
    const xl = cs.x, xr = cs.x+cs.width;
    return {type:'group', children:[
      {type:'line', shape:{x1:xl,y1:py,x2:xl+len,y2:py}, style:st},
      {type:'line', shape:{x1:xr,y1:py,x2:xr-len,y2:py}, style:st}]};
  }
}

const grid=[], xAxis=[], yAxis=[], series=[];
const faintLean = 'rgba(0,0,0,0.27)', faintOp='rgba(255,0,0,0.28)', faintMag='rgba(0,0,255,0.22)', faintGm='rgba(0,128,0,0.25)', faintSfp='rgba(191,0,191,0.3)';
function line(name, data, idx, color, width, type, z, extra){
  return Object.assign({type:'line', name, data, xAxisIndex:idx, yAxisIndex:idx, symbol:'none', showSymbol:false,
    silent:true, animation:false, z, lineStyle:{color, width, type}, itemStyle:{color}, emphasis:{disabled:true}}, extra||{});
}
const DASH=[4,2.2], DOT=[1.3,1.6], DASHDOT=[6,2,1.5,2];

for(let r=0;r<3;r++){
  for(let c=0;c<3;c++){
    const idx=r*3+c, cg=colsGeo[c], rg=rowsGeo[r], p=panels[idx];
    grid.push({left:cg.left, top:rg.top, width:cg.width, height:rg.height, show:true, borderColor:'#000', borderWidth:1.3, backgroundColor:'transparent', containLabel:false, outerBoundsMode:'none'});
    xAxis.push({type:'log', logBase:10, gridIndex:idx, min:cg.xmin, max:cg.xmax, position:'bottom',
      axisLine:{show:false}, axisTick:{show:false}, splitLine:{show:false}, minorTick:{show:false},
      axisLabel:{customValues:cg.ticks, formatter:v=>Number(v).toFixed(2), fontFamily:SERIF, fontSize:15.5, color:'#000', margin:5},
      name:cg.name, nameLocation:'middle', nameGap:20, nameTextStyle:{fontFamily:SERIF, fontSize:19.5, lineHeight:20.5, color:'#000'}});
    yAxis.push({type:'value', gridIndex:idx, min:rg.ymin, max:rg.ymax,
      axisLine:{show:false}, axisTick:{show:false}, splitLine:{show:false},
      axisLabel:{customValues:rg.ticks, formatter:v=>Number(v).toFixed(rg.dec), fontFamily:SERIF, fontSize:15.5, color:'#000', margin:5},
      name: c===0 ? yNames[r] : '', nameLocation:'middle', nameGap:rg.nameGap, nameTextStyle:{fontFamily:SERIF, fontSize:19.5, color:'#000'}});

    p.magRuns.forEach(d=>series.push(line('run', d, idx, faintMag, 1, DOT, 2)));
    p.opRuns.forEach(d=>series.push(line('run', d, idx, faintOp, 1, DASH, 2)));
    (p.gmRuns||[]).forEach(d=>series.push(line('run', d, idx, faintGm, 1, DASHDOT, 2)));
    (p.sfpRuns||[]).forEach(d=>series.push(line('run', d, idx, faintSfp, 1, 'solid', 2, {symbol:'rect', symbolSize:3, showSymbol:true})));
    p.leanRuns.forEach(d=>series.push(line('run', d, idx, faintLean, 1, 'solid', 3)));
    series.push(line('Magnitude', p.mag, idx, '#0000ff', 1.4, DOT, 5));
    series.push(line('Operator\nnorm', p.op, idx, '#ff0000', 1.4, DASH, 6));
    if(p.gm) series.push(line('GM', p.gm, idx, '#007f00', 1.4, DASHDOT, 6));
    series.push(line('LEAN', p.lean, idx, '#000000', 1.6, 'solid', 7));
    if(p.sfp) series.push(line('SFP', p.sfp, idx, '#bf00bf', 1.6, 'solid', 8, {symbol:'rect', symbolSize:4.5, showSymbol:true}));
    series.push({type:'scatter', name:'Unpruned\naccuracy', xAxisIndex:idx, yAxisIndex:idx, data:[[1, p.unpruned]],
      symbol:'circle', symbolSize:8, silent:true, animation:false, z:9,
      itemStyle:{color:'rgba(255,255,255,0)', borderColor:'#ff0000', borderWidth:1.3}});
    const td=[];
    const ymid=(rg.ymin+rg.ymax)/2, xmid=Math.sqrt(cg.xmin*cg.xmax);
    cg.ticks.forEach(v=>td.push([v,ymid,0]));
    xMinorTicks(cg).forEach(v=>td.push([v,ymid,1]));
    rg.ticks.forEach(v=>td.push([xmid,v,2]));
    yMinorTicks(rg).forEach(v=>td.push([xmid,v,3]));
    series.push({type:'custom', name:'ticks', xAxisIndex:idx, yAxisIndex:idx, data:td, encode:{x:0,y:1},
      renderItem:renderTick, silent:true, animation:false, z:10});
  }
}

const graphic = [
  {type:'rect', shape:{x:10, y:10, width:950, height:55}, style:{fill:'none', stroke:'#333', lineWidth:2}, silent:true},
  {type:'rect', shape:{x:8.5, y:71.5, width:950, height:301.5}, style:{fill:'none', stroke:'#333', lineWidth:2}, silent:true},
  {type:'rect', shape:{x:9, y:384, width:950, height:300}, style:{fill:'none', stroke:'#333', lineWidth:2}, silent:true},
  {type:'rect', shape:{x:10, y:695, width:950, height:320}, style:{fill:'none', stroke:'#333', lineWidth:2}, silent:true}
];
const headerX = [203, 506, 809];
for(let c=0;c<3;c++){
  graphic.push({type:'text', x:headerX[c], y:27, silent:true, style:{text:columnTitles[c], fontFamily:SANS, fontWeight:'bold', fontSize:21, fill:'#000', align:'center', verticalAlign:'middle'}});
  graphic.push({type:'text', x:headerX[c], y:46, silent:true, style:{
    text:'{n|'+columnSubtitleBase[c]+'}{s|'+columnSubtitleExp[c]+'}{n| parameters}',
    align:'center', verticalAlign:'middle', fill:'#000',
    rich:{
      n:{fontFamily:SANS, fontStyle:'italic', fontSize:14, lineHeight:20, verticalAlign:'bottom', fill:'#000'},
      s:{fontFamily:SANS, fontStyle:'italic', fontSize:11, lineHeight:20, verticalAlign:'top', fill:'#000'}
    }}});
}
const rowTitleY = [355, 667, 977];
for(let r=0;r<3;r++){
  graphic.push({type:'text', x:479, y:rowTitleY[r], silent:true, style:{text:rowTitles[r], fontFamily:SANS, fontWeight:'bold', fontSize:20, fill:'#000', align:'center', verticalAlign:'middle'}});
}

const legendData = legendNames.map(n => (n==='SFP' || n==='Unpruned\naccuracy') ? {name:n} : {name:n, itemStyle:{opacity:0}});

const chart = echarts.init(document.getElementById('c'), null, {renderer:'canvas'});
chart.setOption({
  animation:false,
  backgroundColor:'#fff',
  grid, xAxis, yAxis, series, graphic,
  legend:{show:true, orient:'vertical', left:683, top:712, itemWidth:28, itemHeight:10, itemGap:3.5, selectedMode:false,
    data:legendData, textStyle:{fontFamily:SERIF, fontSize:13, lineHeight:13.5, color:'#000'}}
});
</script></body></html>
